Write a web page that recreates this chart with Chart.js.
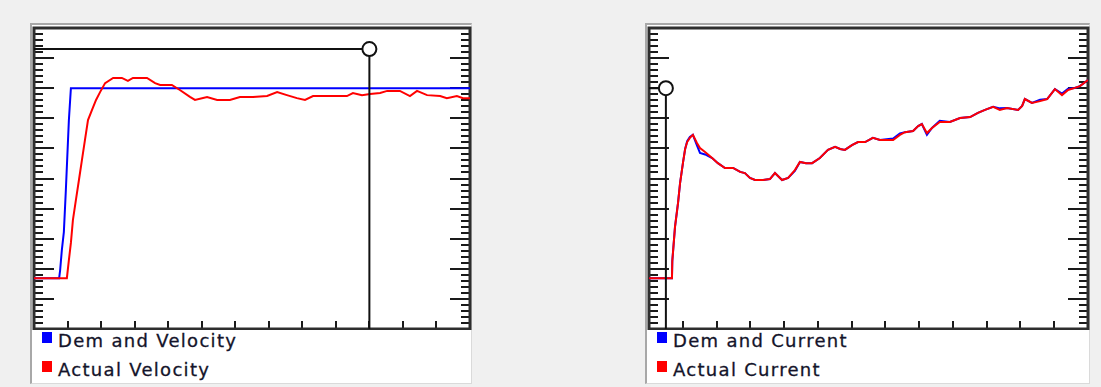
<!DOCTYPE html>
<html>
<head>
<meta charset="utf-8">
<script src="https://cdn.jsdelivr.net/npm/chart.js@4.4.0/dist/chart.umd.min.js"></script>
<style>
  body { margin: 0; background: #f0f0f0; width: 1101px; height: 387px; overflow: hidden; position: relative; }
  .painel { position: absolute; top: 23px; height: 361px; background: #fff; box-sizing: border-box;
            border-top: 2px solid #a8a8a8; border-left: 2px solid #a8a8a8;
            border-right: 1px solid #dadada; border-bottom: 1px solid #dadada; }
  canvas { position: absolute; top: 22px; }
  .legenda { position: absolute; font-family: "DejaVu Sans", sans-serif; font-size: 18px; letter-spacing: 1.3px;
             color: #14142a; white-space: nowrap; -webkit-text-stroke: 0.3px #14142a; }
  .legenda span { position: absolute; left: -16px; top: 2px; width: 10px; height: 11px; -webkit-text-stroke: 0; }
</style>
</head>
<body>
<div class="painel" style="left:30px;width:442px"></div>
<div class="painel" style="left:645px;width:445px"></div>
<canvas id="graficoVel" width="442" height="308" style="left:30px"></canvas>
<canvas id="graficoCor" width="445" height="308" style="left:645px"></canvas>
<script>
// eixo x: tempo (0..130), eixo y: 0..100 (10 divisoes)
const labelsVel = ['Dem and Velocity', 'Actual Velocity'];
const labelsCor = ['Dem and Current', 'Actual Current'];

// Velocidade
const velDemX = [0, 7.5, 7.8, 8.3, 8.9, 9.5, 10.4, 11.0, 130];
const velDemY = [16.9, 16.9, 19.6, 26.2, 32.2, 46.2, 69.4, 80.0, 80.0];
const velActX = [0, 9.8, 10.4, 11.0, 11.6, 12.5, 13.4, 14.3, 15.2, 16.1, 17.3, 18.5, 19.7, 21.2, 23.6, 26.2, 28.0, 29.5, 33.7,
  36.1, 37.6, 41.1, 43.5, 46.5, 48.0, 51.6, 54.6, 58.4, 61.4, 65.3, 69.5, 72.5, 75.4, 78.4, 80.8, 83.2, 88.3, 93.3, 95.1,
  97.8, 100.2, 103.2, 105.3, 109.1, 112.1, 114.2, 117.2, 121.1, 123.1, 126.1, 127.9, 130];
const velActY = [16.9, 16.9, 22.9, 28.6, 36.2, 42.9, 49.5, 56.2, 62.8, 69.4, 72.8, 76.1, 78.7, 81.7, 83.4, 83.4, 82.4, 83.4, 83.4,
  81.7, 81.1, 81.1, 79.4, 77.1, 76.1, 77.1, 76.1, 76.1, 77.1, 77.1, 77.4, 78.7, 77.7, 76.7, 76.1, 77.4, 77.4, 77.4, 78.4,
  77.7, 78.1, 78.4, 79.1, 79.1, 77.4, 79.1, 77.7, 77.4, 76.7, 77.4, 76.7, 76.7];
const velCursorX = [0, 100, 100];
const velCursorY = [93.0, 93.0, 0];

// Corrente
const corX = [0, 6.8, 6.9, 7.7, 8.6, 9.2, 10.1, 10.7, 11.3, 12.1, 13.0, 14.2, 15.1, 16.6, 18.7, 20.4, 22.5, 24.9, 27.0, 28.4,
  29.9, 31.4, 33.8, 35.8, 37.3, 39.4, 41.2, 43.2, 44.7, 46.5, 48.3, 50.6, 53.0, 55.1, 56.6, 58.0, 60.1, 61.9, 64.0, 66.3,
  68.4, 72.3, 74.3, 75.8, 78.2, 79.7, 80.8, 82.3, 83.8, 86.1, 89.1, 92.1, 95.1, 97.4, 99.5, 101.9, 103.9, 106.0, 109.3,
  110.5, 111.3, 113.4, 115.8, 117.9, 120.2, 122.3, 124.1, 126.1, 127.6, 130];
const corActY = [16.9, 16.9, 22.6, 33.9, 41.9, 48.5, 55.5, 59.8, 62.1, 63.5, 64.5, 61.8, 60.1, 58.8, 56.8, 55.1, 53.5, 53.5, 52.2, 51.8,
  50.2, 49.5, 49.5, 49.8, 51.8, 49.5, 50.2, 52.8, 55.5, 55.1, 55.1, 56.8, 59.5, 60.5, 59.8, 59.5, 61.1, 62.1, 62.1, 63.5,
  62.8, 62.8, 64.5, 65.4, 65.8, 67.4, 68.1, 65.1, 66.8, 68.8, 68.8, 70.1, 70.4, 71.8, 72.8, 73.8, 72.8, 73.4, 72.8,
  74.1, 76.4, 75.1, 75.7, 76.4, 79.7, 77.7, 79.4, 80.1, 80.7, 82.7];
const corDemY = [16.9, 16.9, 22.6, 33.9, 41.9, 48.5, 55.5, 59.8, 62.4, 63.8, 64.5, 61.0, 58.5, 58.0, 56.8, 55.1, 53.5, 53.5, 52.2, 51.8,
  50.2, 49.5, 49.5, 49.8, 51.8, 49.5, 50.2, 52.5, 55.5, 55.1, 55.1, 56.8, 59.5, 60.5, 59.8, 59.5, 61.1, 62.1, 62.1, 63.5,
  62.8, 63.3, 65.0, 65.4, 65.8, 67.4, 68.1, 64.5, 66.8, 69.2, 68.8, 70.1, 70.4, 71.8, 72.8, 73.8, 73.3, 73.4, 72.8,
  74.1, 76.4, 75.1, 76.2, 76.4, 79.7, 78.2, 79.8, 80.1, 80.7, 82.7];
const corCursorX = [0, 5, 5];
const corCursorY = [80, 80, 0];

function pontos(xs, ys) {
  return xs.map((x, i) => ({ x: x, y: ys[i] }));
}

// régua com marcas para dentro do gráfico
const regua = {
  id: 'regua',
  beforeDatasetsDraw(chart) {
    const ctx = chart.ctx;
    const a = chart.chartArea;
    const sx = chart.scales.x, sy = chart.scales.y;
    ctx.save();
    ctx.strokeStyle = '#1a1a1a';
    ctx.lineWidth = 2;
    ctx.beginPath();
    for (let v = 2; v < 100; v += 2) {
      const py = Math.round(sy.getPixelForValue(v));
      const len = v % 10 === 0 ? 20 : 9;
      ctx.moveTo(a.left, py); ctx.lineTo(a.left + len, py);
      ctx.moveTo(a.right, py); ctx.lineTo(a.right - len, py);
    }
    for (let v = 10; v < 130; v += 10) {
      const px = Math.round(sx.getPixelForValue(v));
      ctx.moveTo(px, a.bottom); ctx.lineTo(px, a.bottom - 8);
    }
    ctx.stroke();
    ctx.lineWidth = 3;
    ctx.strokeStyle = '#2e2e2e';
    ctx.strokeRect(a.left, a.top, a.right - a.left, a.bottom - a.top);
    ctx.restore();
  }
};

function criarGrafico(id, labels, dem, act, cursor) {
  new Chart(document.getElementById(id), {
    type: 'line',
    data: {
      datasets: [
        {
          data: cursor, borderColor: '#111', borderWidth: 2, order: 0,
          pointRadius: [0, 7, 0], pointBorderWidth: 2, pointBackgroundColor: '#fff', pointBorderColor: '#111'
        },
        { label: labels[1], data: act, borderColor: '#ff0000', borderWidth: 2, order: 1 },
        { label: labels[0], data: dem, borderColor: '#0000ff', borderWidth: 2, order: 2 }
      ]
    },
    options: {
      responsive: false,
      animation: false,
      devicePixelRatio: 1,
      layout: { padding: { left: 4, top: 6, right: 2, bottom: 1 } },
      elements: { point: { radius: 0 }, line: { tension: 0 } },
      scales: {
        x: { type: 'linear', min: 0, max: 130, display: false },
        y: { min: 0, max: 100, display: false }
      },
      plugins: { legend: { display: false }, tooltip: { enabled: false } }
    },
    plugins: [regua]
  });
}

criarGrafico('graficoVel', labelsVel, pontos(velDemX, velDemY), pontos(velActX, velActY), pontos(velCursorX, velCursorY));
criarGrafico('graficoCor', labelsCor, pontos(corX, corDemY), pontos(corX, corActY), pontos(corCursorX, corCursorY));

// legenda em duas linhas abaixo do gráfico
function legenda(left, labels) {
  const cores = ['#0000ff', '#ff0000'];
  labels.forEach((txt, i) => {
    const div = document.createElement('div');
    div.className = 'legenda';
    div.style.left = left + 'px';
    div.style.top = (330 + i * 29) + 'px';
    div.innerHTML = '<span style="background:' + cores[i] + '"></span>' + txt;
    document.body.appendChild(div);
  });
}
legenda(58, labelsVel);
legenda(673, labelsCor);
</script>
</body>
</html>
